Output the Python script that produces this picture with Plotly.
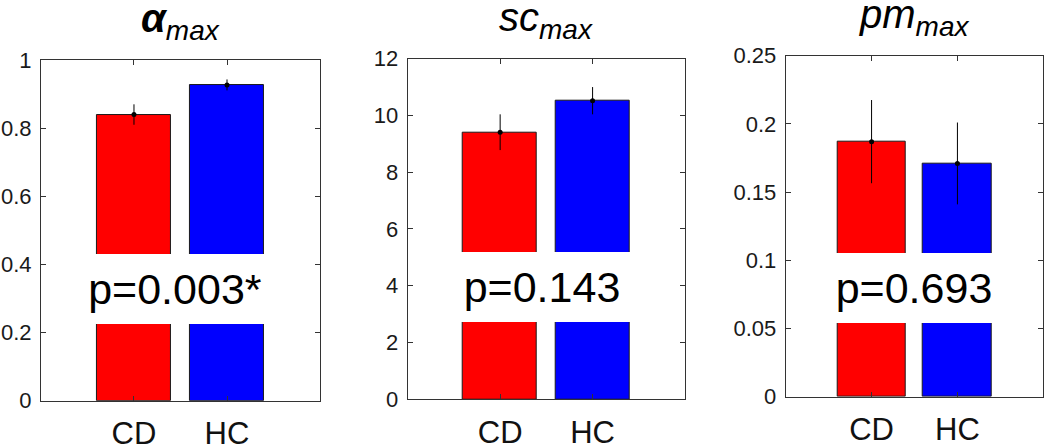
import plotly.graph_objects as go

# ---------------- data ----------------
categories = ["CD", "HC"]
alpha_mean = [0.840, 0.927]
alpha_err = [0.030, 0.016]
sc_mean = [9.41, 10.52]
sc_err = [0.63, 0.48]
pm_mean = [0.187, 0.171]
pm_err = [0.0305, 0.0300]
p_labels = ["p=0.003*", "p=0.143", "p=0.693"]
titles = ["<b>α</b><sub>max</sub>", "sc<sub>max</sub>", "pm<sub>max</sub>"]
y_ranges = [[0, 1], [0, 12], [0, 0.25]]
y_dticks = [0.2, 2, 0.05]
bar_colors = ["#FF0000", "#0000FF"]

panels = [
    (alpha_mean, alpha_err),
    (sc_mean, sc_err),
    (pm_mean, pm_err),
]

# layout geometry (fractions of the figure)
x_domains = [[0.0390, 0.3048], [0.3883, 0.6524], [0.7483, 0.9936]]
y_domains = [[0.1056, 0.8660], [0.1087, 0.8690], [0.1145, 0.8757]]
p_box_x = [1.446, 1.448, 1.50]
p_box_y = [0.328, 3.96, 0.080]

FONT = "Liberation Sans, Arial, sans-serif"
AXC = "#333333"

fig = go.Figure()
xpos = [1, 2]

for i, (means, errs) in enumerate(panels):
    xa = "x" if i == 0 else f"x{i+1}"
    ya = "y" if i == 0 else f"y{i+1}"
    fig.add_trace(go.Bar(
        x=xpos, y=means, width=0.8,
        marker=dict(color=bar_colors, line=dict(color="#1a1a1a", width=1)),
        xaxis=xa, yaxis=ya, showlegend=False,
    ))
    fig.add_trace(go.Scatter(
        x=xpos, y=means, mode="markers",
        marker=dict(color="black", size=5),
        error_y=dict(type="data", array=errs, visible=True,
                     color="black", thickness=1, width=0),
        xaxis=xa, yaxis=ya, showlegend=False,
    ))

layout = dict(
    width=1050, height=448,
    margin=dict(l=0, r=0, t=0, b=0, autoexpand=False),
    paper_bgcolor="white", plot_bgcolor="white",
    font=dict(family=FONT, color="#1a1a1a"),
    bargap=0,
)

annotations = []
for i in range(3):
    xk = "xaxis" if i == 0 else f"xaxis{i+1}"
    yk = "yaxis" if i == 0 else f"yaxis{i+1}"
    ya = "y" if i == 0 else f"y{i+1}"
    xa = "x" if i == 0 else f"x{i+1}"
    layout[xk] = dict(
        domain=x_domains[i], range=[0, 3], anchor=ya,
        tickvals=xpos, ticktext=categories,
        ticks="inside", ticklen=5, tickcolor=AXC,
        showline=True, linecolor=AXC, linewidth=1, mirror="ticks",
        showgrid=False, zeroline=False, automargin=False,
        tickfont=dict(size=31, color="#111111", family=FONT),
        ticklabelstandoff=5, fixedrange=True,
    )
    layout[yk] = dict(
        domain=y_domains[i], range=y_ranges[i], anchor=xa,
        dtick=y_dticks[i], tick0=0,
        ticks="inside", ticklen=5, tickcolor=AXC,
        showline=True, linecolor=AXC, linewidth=1, mirror="ticks",
        showgrid=False, zeroline=False, automargin=False,
        tickfont=dict(size=22, color="#1a1a1a", family=FONT),
        ticklabelstandoff=4, fixedrange=True,
    )
    # p-value label with white box
    annotations.append(dict(
        x=p_box_x[i], y=p_box_y[i], xref=xa, yref=ya,
        text=p_labels[i], showarrow=False,
        xanchor="center", yanchor="middle",
        width=200, height=70, bgcolor="white", borderpad=0, borderwidth=0,
        valign="middle",
        font=dict(size=43, color="#000000", family=FONT),
    ))
    # panel title
    annotations.append(dict(
        x=0.5, y=1, xref=f"{xa} domain", yref=f"{ya} domain",
        text=titles[i], showarrow=False,
        xanchor="center", yanchor="bottom", yshift=12,
        font=dict(size=40, color="#000000", family=FONT, style="italic"),
    ))

layout["annotations"] = annotations
fig.update_layout(**layout)
fig.write_html(
    "out.html",
    config={"displayModeBar": False},
    post_script="document.body.style.margin='0';document.body.style.overflow='hidden';",
)
